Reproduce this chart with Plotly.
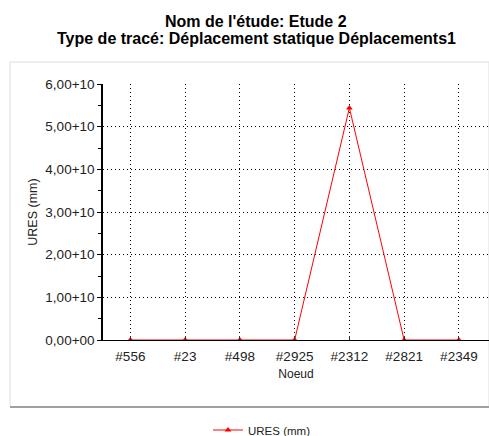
import plotly.graph_objects as go

nodes = ["#556", "#23", "#498", "#2925", "#2312", "#2821", "#2349"]
ures_mm = [0, 0, 0, 0, 5.44e10, 0, 0]
ytick_vals = [0, 1e10, 2e10, 3e10, 4e10, 5e10, 6e10]
ytick_text = ["0,00+00", "1,00+10", "2,00+10", "3,00+10", "4,00+10", "5,00+10", "6,00+10"]
title_lines = ["Nom de l'étude: Etude 2", "Type de tracé: Déplacement statique Déplacements1"]

W, H = 489, 436
L, R, T, B = 103, 0, 84, 96
pw, ph = W - L - R, H - T - B

fig = go.Figure()
fig.add_trace(go.Scatter(
    x=nodes, y=ures_mm, mode="lines+markers", name="URES (mm)",
    line=dict(color="#ff0000", width=1),
    marker=dict(symbol="triangle-up", size=6, color="#ff0000"),
))

font = "Liberation Sans, Arial, sans-serif"
fig.update_layout(
    width=W, height=H,
    margin=dict(l=L, r=R, t=T, b=B, autoexpand=False),
    paper_bgcolor="white", plot_bgcolor="white",
    font=dict(family=font, size=13.5, color="#222"),
    showlegend=True,
    legend=dict(orientation="h", x=(262 - L) / pw, xanchor="center",
                y=(H - B - 430) / ph, yanchor="middle",
                font=dict(family=font, size=11.5, color="#222"), bgcolor="rgba(0,0,0,0)"),
    xaxis=dict(
        type="category", range=[-0.5, 6.55], automargin=False,
        showline=True, linecolor="black", linewidth=1,
        ticks="inside", ticklen=4, tickcolor="#333", ticklabelstandoff=4,
        showgrid=True, gridcolor="black", griddash="1px,3px", gridwidth=1,
        title=dict(text="Noeud", standoff=6, font=dict(size=12)),
        zeroline=False,
    ),
    yaxis=dict(
        range=[0, 6e10], tickvals=ytick_vals, ticktext=ytick_text, automargin=False,
        showline=True, linecolor="black", linewidth=1.5,
        ticks="outside", ticklen=4, tickcolor="black",
        showgrid=True, gridcolor="black", griddash="1px,3px", gridwidth=1,
        minor=dict(dtick=5e9, ticks="outside", ticklen=3, tickcolor="black", showgrid=False),
        title=dict(text="URES (mm)", standoff=5, font=dict(size=12.5)),
        zeroline=False,
    ),
)

for txt, ypx in zip(title_lines, [21, 38]):
    fig.add_annotation(text="<b>%s</b>" % txt, xref="paper", yref="paper",
                       x=(256 - L) / pw, y=(H - B - ypx) / ph, xanchor="center", yanchor="middle",
                       showarrow=False, font=dict(family=font, size=16, color="#000"))

# outer frame around the plot region
fig.add_shape(type="rect", xref="paper", yref="paper",
              x0=(10 - L) / pw, x1=1.0, y0=(H - B - 407) / ph, y1=(H - B - 62) / ph,
              line=dict(color="#dddddd", width=1), fillcolor="rgba(0,0,0,0)", layer="below")
fig.add_shape(type="line", xref="paper", yref="paper",
              x0=(10 - L) / pw, x1=1.0, y0=(H - B - 407) / ph, y1=(H - B - 407) / ph,
              line=dict(color="#a0a0a0", width=2))

fig.write_html("out.html", config={"displayModeBar": False},
               post_script="document.body.style.margin='0';")
